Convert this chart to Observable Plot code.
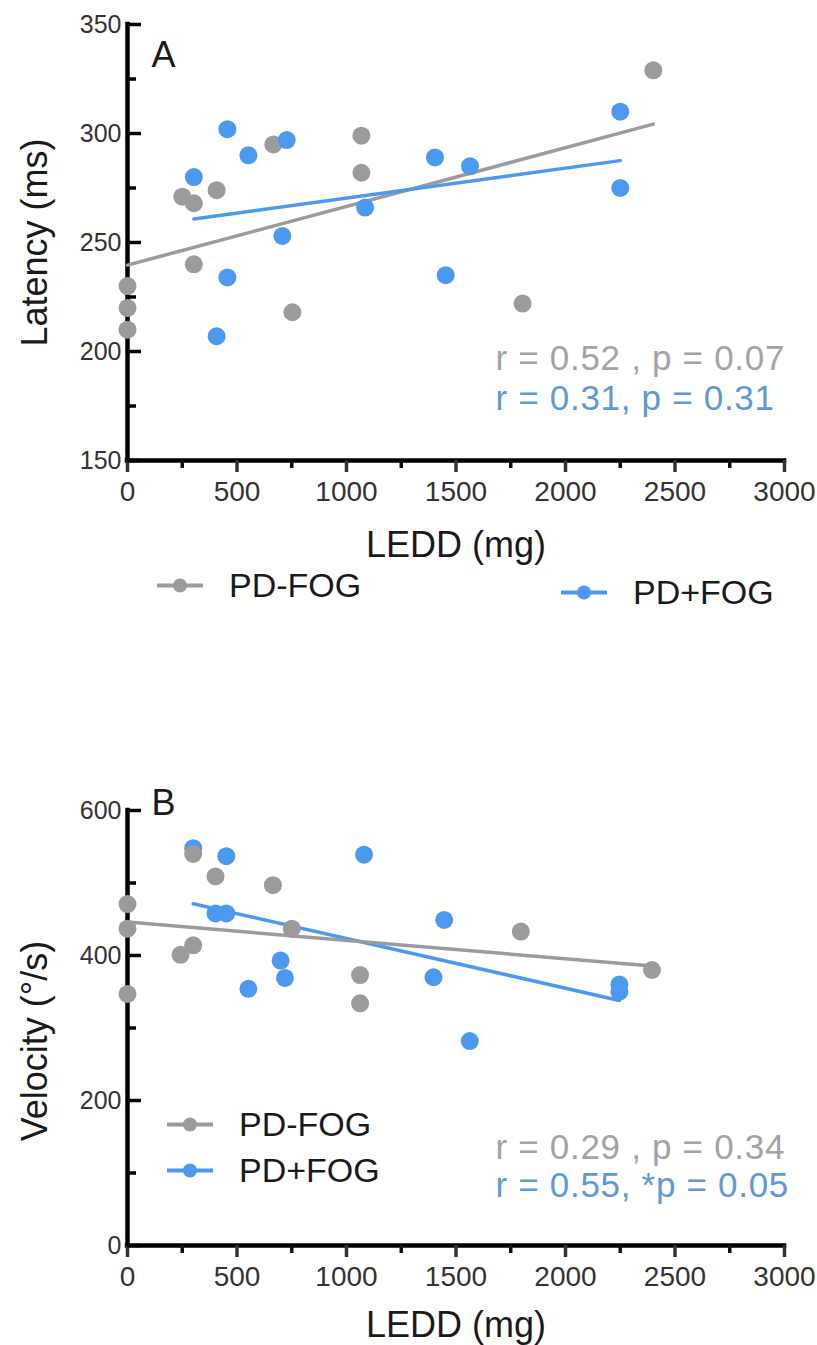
<!DOCTYPE html>
<html><head><meta charset="utf-8">
<script src="https://cdn.jsdelivr.net/npm/d3@7"></script>
<script src="https://cdn.jsdelivr.net/npm/@observablehq/plot@0.6"></script>
<style>
body{margin:0;background:#fff;font-family:"Liberation Sans",Arial,sans-serif;}
#wrap{position:relative;width:817px;height:1345px;overflow:hidden;background:#fff;}
.panel{position:absolute;left:0;}
.legend{position:absolute;display:flex;align-items:center;font-size:34px;color:#1a1a1a;transform:translateY(-50%);white-space:nowrap;}
.legend svg{margin-right:26px;}
</style></head><body><div id="wrap"></div>
<script>
// ---- data ----
const groups = ["PD-FOG", "PD+FOG"];
const colors = ["#9b9b9b", "#4c9af0"];
const statColors = ["#a3a3a3", "#5e9ad6"];

const xMajor = [0, 500, 1000, 1500, 2000, 2500, 3000];
const xMinor = [250, 750, 1250, 1750, 2250, 2750];

// Panel A: Latency (ms)
const latencyLeddNoFog = [0, 0, 0, 250, 303, 407, 303, 666, 753, 1068, 1068, 2401, 1804];
const latencyNoFog     = [230, 220, 210, 271, 268, 274, 240, 295, 218, 299, 282, 329, 222];
const latencyLeddFog   = [303, 456, 552, 727, 707, 456, 407, 1085, 1404, 1564, 1453, 2250, 2250];
const latencyFog       = [280, 302, 290, 297, 253, 234, 207, 266, 289, 285, 235, 310, 275];
const latencyTicks = [150, 200, 250, 300, 350];
const latencyMinor = [175, 225, 275, 325];
const latencyStats = ["r = 0.52 , p = 0.07", "r = 0.31, p = 0.31"];

// Panel B: Velocity (°/s)
const velocityLeddNoFog = [0, 0, 0, 300, 402, 664, 300, 242, 750, 1062, 1062, 1796, 2395];
const velocityNoFog     = [471, 437, 347, 540, 509, 497, 414, 401, 437, 373, 334, 433, 380];
const velocityLeddFog   = [300, 451, 1080, 402, 451, 699, 719, 552, 1446, 1397, 1563, 2246, 2246];
const velocityFog       = [548, 537, 539, 458, 458, 393, 369, 354, 449, 370, 282, 360, 350];
const velocityTicks = [0, 200, 400, 600];
const velocityMinor = [100, 300, 500];
const velocityStats = ["r = 0.29 , p = 0.34", "r = 0.55, *p = 0.05"];

// ---- helpers ----
const FONT = '"Liberation Sans", Arial, sans-serif';
function table(xa, ya, ga) { return xa.map((x, i) => ({ledd: x, value: ya[i], group: ga})); }

const frameW = 817 - 127 - 33;

function panel(o) {
  const p = Plot.plot({
    width: 817, height: o.height,
    marginLeft: 127, marginRight: 33, marginTop: o.marginTop, marginBottom: o.marginBottom,
    style: {fontFamily: FONT, background: "white", overflow: "visible", color: "#111"},
    x: {domain: [0, 3000]},
    y: {domain: o.yDomain},
    color: {domain: groups, range: colors},
    marks: [
      Plot.ruleY([o.yDomain[0]], {stroke: "#000", strokeWidth: 4.5, strokeLinecap: "square"}),
      Plot.ruleX([0], {stroke: "#000", strokeWidth: 4.5, strokeLinecap: "square"}),
      Plot.axisX({ticks: xMajor, tickSize: 12, strokeWidth: 3.5, tickPadding: 9, fontSize: 28, label: null, tickFormat: d => String(d), color: "#333"}),
      Plot.axisX({ticks: xMinor, tickSize: 8, strokeWidth: 3.5, text: null, label: null}),
      Plot.tickY(o.yMajor, {y: d => d, insetRight: frameW - 14, strokeWidth: 3.5, stroke: "#000"}),
      Plot.tickY(o.yMinor, {y: d => d, insetRight: frameW - 9, strokeWidth: 3.5, stroke: "#000"}),
      Plot.axisY({ticks: o.yMajor, tickSize: 0, tickPadding: 6, fontSize: 25, label: null, color: "#333"}),
      Plot.linearRegressionY(o.data, {x: "ledd", y: "value", stroke: "group", ci: 0, strokeWidth: 3.5}),
      Plot.dot(o.data, {x: "ledd", y: "value", fill: "group", r: 9}),
      Plot.text(["LEDD (mg)"], {frameAnchor: "bottom", dy: o.xLabelDy, fontSize: 36, fill: "#1a1a1a", textAnchor: "middle", lineAnchor: "middle"}),
      Plot.text([o.yLabel], {frameAnchor: "left", dx: -92, dy: o.yLabelDy, rotate: -90, fontSize: 36, fill: "#1a1a1a", textAnchor: "middle", lineAnchor: "middle"}),
      Plot.text([o.letter], {frameAnchor: "top-left", dx: 24, dy: o.letterDy, fontSize: 36, fill: "#1a1a1a", textAnchor: "start", lineAnchor: "middle"}),
      Plot.text([o.stats[0]], {frameAnchor: "top-left", dx: 368, dy: o.statsDy[0], fontSize: 35, fill: statColors[0], textAnchor: "start", lineAnchor: "middle"}),
      Plot.text([o.stats[1]], {frameAnchor: "top-left", dx: 368, dy: o.statsDy[1], fontSize: 35, fill: statColors[1], textAnchor: "start", lineAnchor: "middle"})
    ]
  });
  d3.select(p).selectAll("text").filter(function() { return this.textContent.startsWith("r = "); })
    .attr("letter-spacing", "0.7px");
  return p;
}

const wrap = document.getElementById("wrap");

// Panel A (gray drawn first, blue on top)
const dataA = table(latencyLeddNoFog, latencyNoFog, groups[0]).concat(table(latencyLeddFog, latencyFog, groups[1]));
const plotA = panel({
  data: dataA, yDomain: [150, 350], yMajor: latencyTicks, yMinor: latencyMinor,
  yLabel: "Latency (ms)", letter: "A", letterDy: 31,
  stats: latencyStats, statsDy: [334, 374],
  height: 620, marginTop: 24, marginBottom: 160, xLabelDy: 85, yLabelDy: 0
});
const divA = document.createElement("div"); divA.className = "panel"; divA.style.top = "0px";
divA.appendChild(plotA); wrap.appendChild(divA);

// Panel B (blue drawn first, gray on top)
const dataB = table(velocityLeddFog, velocityFog, groups[1]).concat(table(velocityLeddNoFog, velocityNoFog, groups[0]));
const plotB = panel({
  data: dataB, yDomain: [0, 600], yMajor: velocityTicks, yMinor: velocityMinor,
  yLabel: "Velocity (°/s)", letter: "B", letterDy: -7,
  stats: velocityStats, statsDy: [337, 375],
  height: 565, marginTop: 30, marginBottom: 100, xLabelDy: 80, yLabelDy: 13
});
const divB = document.createElement("div"); divB.className = "panel"; divB.style.top = "780px";
divB.appendChild(plotB); wrap.appendChild(divB);

// Legends
function swatch(color) {
  const ns = "http://www.w3.org/2000/svg";
  const s = document.createElementNS(ns, "svg");
  s.setAttribute("width", 46); s.setAttribute("height", 16);
  const l = document.createElementNS(ns, "line");
  l.setAttribute("x1", 0); l.setAttribute("x2", 46); l.setAttribute("y1", 8); l.setAttribute("y2", 8);
  l.setAttribute("stroke", color); l.setAttribute("stroke-width", 4);
  const c = document.createElementNS(ns, "circle");
  c.setAttribute("cx", 23); c.setAttribute("cy", 8); c.setAttribute("r", 7); c.setAttribute("fill", color);
  s.appendChild(l); s.appendChild(c);
  return s;
}
function legendItem(i, left, top) {
  const d = document.createElement("div"); d.className = "legend";
  d.style.left = left + "px"; d.style.top = top + "px";
  d.appendChild(swatch(colors[i]));
  const t = document.createElement("span"); t.textContent = groups[i];
  d.appendChild(t); wrap.appendChild(d);
}
legendItem(0, 157, 585);
legendItem(1, 561, 592);
legendItem(0, 167, 1124);
legendItem(1, 167, 1170);
</script></body></html>
